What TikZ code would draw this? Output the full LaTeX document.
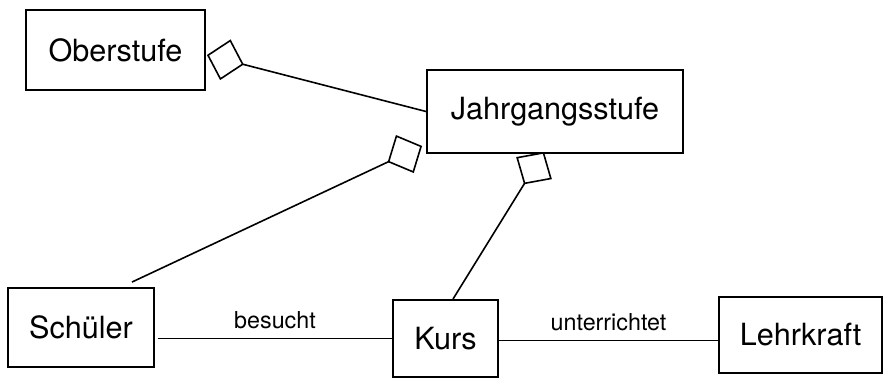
\documentclass[tikz,border=0pt]{standalone}
\usepackage{fontspec}
\setmainfont{TeX Gyre Heros}
\usetikzlibrary{arrows.meta,calc}
\begin{document}
\begin{tikzpicture}[x=1pt,y=-1pt,
  box/.style={draw,line width=1.9pt,inner sep=0pt,font=\fontsize{30.6}{36}\selectfont},
  conn/.style={line width=1.6pt},
  agg/.style={conn,-{Diamond[open,length=38pt,width=42pt,line width=1.6pt]}},
  lbl/.style={inner sep=0pt,font=\fontsize{23.3}{28}\selectfont}]
\useasboundingbox (0,0) rectangle (884,378);
\node[box,minimum width=179pt,minimum height=80pt] (ober) at (115.5,50) {Oberstufe};
\node[box,minimum width=256pt,minimum height=83pt] (jahr) at (555,111.5) {Jahrgangsstufe};
\node[box,minimum width=146pt,minimum height=79pt] (schueler) at (81,327.5) {Schüler};
\node[box,minimum width=105pt,minimum height=77pt] (kurs) at (445.5,338.5) {Kurs};
\node[box,minimum width=163pt,minimum height=76pt] (lehr) at (800.5,335) {Lehrkraft};
\coordinate (obertip) at ($(ober.east)+(1,5)$);
\coordinate (schstart) at ($(schueler.north)+(51,-5)$);
\coordinate (schtip) at ($(jahr.south west)+(-4,-8)$);
\coordinate (kursstart) at ($(kurs.north)+(7.5,0)$);
\coordinate (kurstip) at ($(jahr.south)+(-11,-2)$);
\coordinate (besstart) at ($(schueler.east |- kurs.west)+(3,0)$);
\draw[agg] (jahr.west) -- (obertip);
\draw[agg] (schstart) -- (schtip);
\draw[agg] (kursstart) -- (kurstip);
\draw[conn] (besstart) -- (kurs.west) node[lbl,midway,above=8.5pt] {besucht};
\draw[conn] ($(kurs.east)+(0,2)$) -- ($(kurs.east -| lehr.west)+(0,2)$) node[lbl,midway,above=8.5pt] {unterrichtet};
\end{tikzpicture}
\end{document}
